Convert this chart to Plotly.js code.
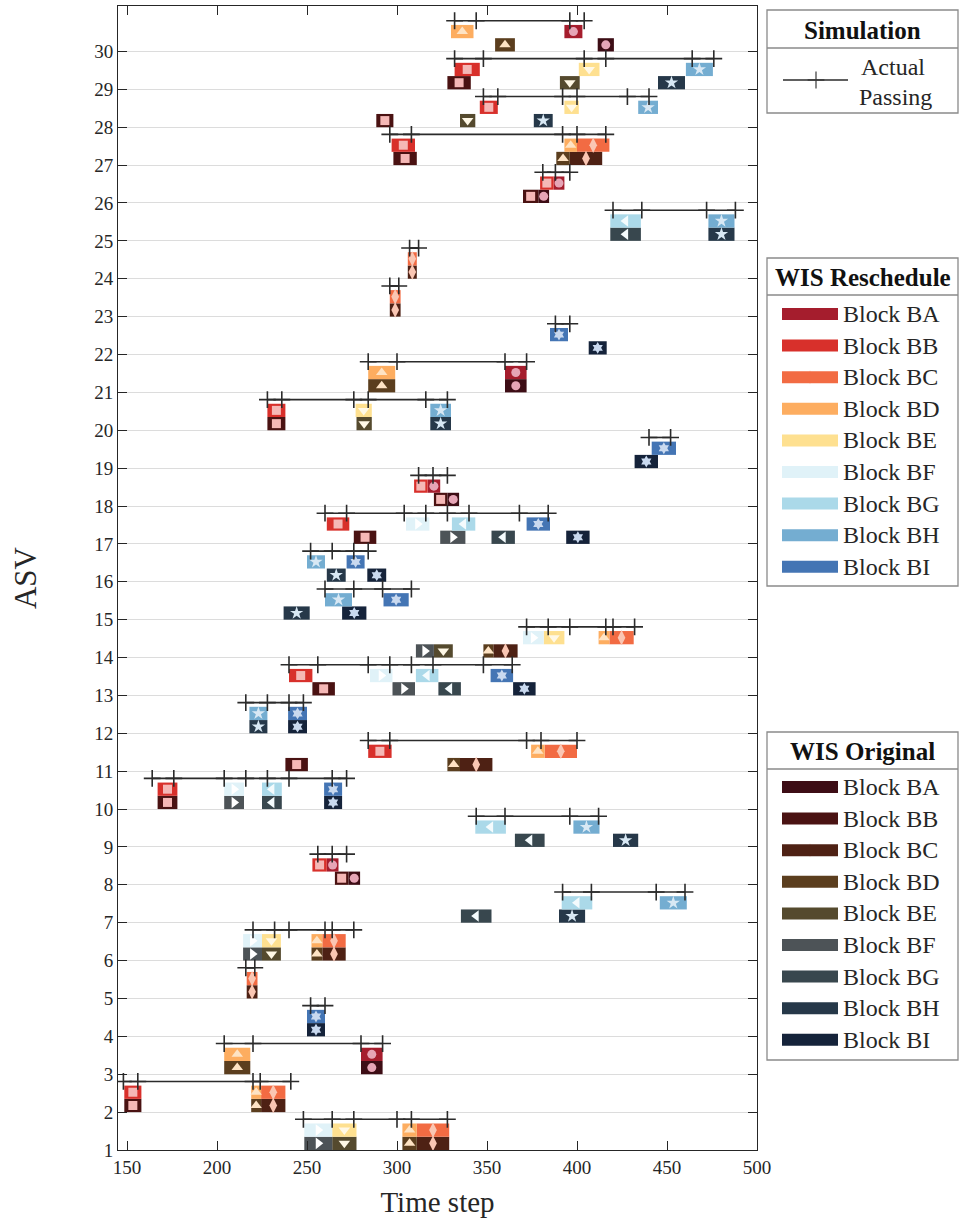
<!DOCTYPE html>
<html><head><meta charset="utf-8">
<script src="https://cdn.plot.ly/plotly-3.0.1.min.js"></script>
<style>body{margin:0;background:#fff}#chart{width:960px;height:1222px}</style>
</head><body><div id="chart"></div>
<script>
// ---------- DATA ----------
const blockNames = ['BA','BB','BC','BD','BE','BF','BG','BH','BI'];
const xTickVals = [150,200,250,300,350,400,450,500];
const asvTicks = Array.from({length:30},(_,i)=>i+1);

// WIS Reschedule blocks: [ASV, start, end]
const rsBA = [[30,393,403],[26,387,393],[21,360,372],[18,317,324],[8,261,267.5],[3,280,292]];
const rsBB = [[29,332,346],[28,346,356],[27,297,310],[26,379.5,387],[20,228,238],[18,309.5,317],[17,261,273.5],[13,240,253],[11,284,297],[10,167,178],[8,253,261],[2,148.5,158]];
const rsBC = [[27,400,418],[24,306,311],[23,296,302],[14,418,431.5],[11,382,400],[6,258.5,271.5],[5,216.5,222.5],[2,224.5,238],[1,311,329]];
const rsBD = [[30,330,342.5],[27,393,400],[21,284,299],[14,412,418],[11,374.5,382],[6,252.5,258.5],[3,204,218.5],[2,219,224.5],[1,303,311]];
const rsBE = [[29,401,412.5],[28,393,401],[20,277,286],[14,381.5,393],[6,225,235.5],[1,264,277.5]];
const rsBF = [[17,305,318],[14,370,381.5],[13,285,297.5],[10,204,215],[6,214.5,225],[1,248.5,264]];
const rsBG = [[25,418.5,435.5],[17,330.5,343.5],[13,310.5,323],[10,225,236],[9,343.5,360.5],[7,391.5,408.5]];
const rsBH = [[29,460.5,475.5],[28,434,445],[25,473,487.5],[20,318.5,330],[16,250,260],[15,260,275],[12,218,228],[9,398,412.5],[7,446,461]];
const rsBI = [[22,385,395],[19,441.5,455],[17,372,385],[16,272,282],[15,292.5,306.5],[13,352,364.5],[12,239.5,250],[10,259.5,269.5],[4,250,260]];

// WIS Original blocks: [ASV, start, end]
const ogBA = [[30,411.5,420.5],[26,378.5,384.5],[21,360,372],[18,328,334.5],[8,273,279.5],[3,280,292]];
const ogBB = [[29,328,341],[28,288.5,298],[27,298,311],[26,370,378.5],[20,228,238],[18,320.5,328],[17,276,288.5],[13,253,265.5],[11,238,250.5],[10,167,178],[8,265.5,273],[2,148.5,158]];
const ogBC = [[27,396,414],[24,306,311],[23,296,302],[14,353.5,367],[11,335,353],[6,258.5,271.5],[5,216.5,222.5],[2,224.5,238],[1,311,329]];
const ogBD = [[30,354.5,365.5],[27,388.5,396],[21,284,299],[14,348,353.5],[11,328,335],[6,252.5,258.5],[3,204,218.5],[2,219,224.5],[1,303,311]];
const ogBE = [[29,390.5,401.5],[28,335,343.5],[20,277.5,286],[14,320.5,331],[6,225,235.5],[1,264,277.5]];
const ogBF = [[17,324,338],[14,310.5,320.5],[13,297.5,310],[10,204,215],[6,214.5,225],[1,248.5,264]];
const ogBG = [[25,418.5,435.5],[17,352.5,365.5],[13,323,335.5],[10,225,236],[9,365.5,382],[7,335.5,352.5]];
const ogBH = [[29,445,460],[28,376,386.5],[25,473,487.5],[20,318.5,330],[16,261,271.5],[15,237,251.5],[12,218,228],[9,420,434],[7,390,404.5]];
const ogBI = [[22,406.5,416.5],[19,432,445],[17,394,407],[16,283.5,294],[15,269.5,283],[13,364.5,377],[12,239.5,250],[10,259.5,269.5],[4,250,260]];

// Simulation: actual passing times per ASV
const actualASV = [30,29,28,27,26,25,24,23,22,21,20,19,18,17,16,15,14,13,12,11,10,9,8,7,6,5,4,3,2,1];
const actualTimes = [
 [332,344,396,404],
 [332,348,404,416,464,476],
 [348,356,392,400,428,440],
 [296,308,392,400,416],
 [381,388,396],
 [420,436,472,488],
 [307,312],
 [296,301],
 [388,396],
 [284,300,360,372],
 [228,236,276,284,316,328],
 [440,452],
 [312,320,328],
 [260,272,304,316,328,340,368,384],
 [252,264,276,284],
 [260,276,292,308],
 [372,384,396,416,420,432],
 [240,256,284,296,308,320,348,364],
 [216,228,240,248],
 [284,296,372,380,400],
 [164,176,204,216,228,240,264,272],
 [344,360,396,412],
 [256,264,272],
 [392,408,444,460],
 [220,232,240,260,264,276],
 [216,221],
 [252,260],
 [204,220,280,292],
 [148,156,220,224,241],
 [248,264,276,300,308,328]
];

// ---------- STYLE ----------
const rsData = [rsBA,rsBB,rsBC,rsBD,rsBE,rsBF,rsBG,rsBH,rsBI];
const ogData = [ogBA,ogBB,ogBC,ogBD,ogBE,ogBF,ogBG,ogBH,ogBI];
const rsColors = ['#a51d2d','#d8302b','#f26b43','#fdad60','#fee090','#e0f2f8','#abd9e9','#74add1','#4475b4'];
const ogColors = ['#3d0d15','#4a1212','#4e2114','#5b3e1e','#554a2e','#4d5357','#38474e','#263849','#15233a'];
const symbols = ['circle','square','diamond-tall','triangle-up','triangle-down','triangle-right','triangle-left','star','hexagram'];
const symSizes = [9,9,11,10,10,10,10,10,9];
const innerColors = ['#e6a5b6','#f5b8b6','#fac6b3','#fee3c4','#fff8e6','#ffffff','#f4fbfd','#d8e8f4','#c9d9ef'];
const FONT = 'Liberation Serif, Times New Roman, serif';
const TXT = '#262626';
const OG_OFF = 0.175, RS_OFF = 0.525, SIM_OFF = 0.81, BAR_H = 0.35;

const traces = [];
function addBlocks(data, colors, off){
  data.forEach((rows, i) => {
    traces.push({
      type:'bar', orientation:'h', xaxis:'x', yaxis:'y',
      y: rows.map(r=>r[0]+off), base: rows.map(r=>r[1]), x: rows.map(r=>r[2]-r[1]),
      width: BAR_H, marker:{color:colors[i], line:{width:0}},
      showlegend:false, hoverinfo:'skip', name: blockNames[i]
    });
  });
  data.forEach((rows, i) => {
    traces.push({
      type:'scatter', mode:'markers', xaxis:'x', yaxis:'y',
      x: rows.map(r=>(r[1]+r[2])/2), y: rows.map(r=>r[0]+off),
      marker:{symbol:symbols[i], size:symSizes[i], color:innerColors[i], line:{width:0}},
      showlegend:false, hoverinfo:'skip'
    });
  });
}
addBlocks(ogData, ogColors, OG_OFF);
addBlocks(rsData, rsColors, RS_OFF);

// actual passing lines
const ax = [], ay = [];
actualASV.forEach((a, i) => {
  actualTimes[i].forEach(t => { ax.push(t); ay.push(a + SIM_OFF); });
  ax.push(null); ay.push(null);
});
traces.push({
  type:'scatter', mode:'lines+markers', xaxis:'x', yaxis:'y', x:ax, y:ay,
  connectgaps:false,
  line:{color:'#2b2b2b', width:1.6},
  marker:{symbol:'cross-thin-open', size:12, color:'#2b2b2b', line:{color:'#2b2b2b', width:1.6}},
  showlegend:false, hoverinfo:'skip'
});

// ---------- LEGEND PANELS (pixel overlay axes) ----------
const shapes = [], annotations = [];
const BX0 = 767, BX1 = 958;
function box(y0, sep, y1, title){
  shapes.push({type:'rect', xref:'x2', yref:'y2', x0:BX0, x1:BX1, y0:y0, y1:y1, line:{color:'#8a8a8a', width:1.3}, fillcolor:'rgba(0,0,0,0)'});
  shapes.push({type:'line', xref:'x2', yref:'y2', x0:BX0, x1:BX1, y0:sep, y1:sep, line:{color:'#8a8a8a', width:1.3}});
  annotations.push({xref:'x2', yref:'y2', x:(BX0+BX1)/2, y:(y0+sep)/2+1, text:'<b>'+title+'</b>', showarrow:false, xanchor:'center', yanchor:'middle', font:{family:FONT, size:25, color:'#111'}});
}
box(10, 48, 113, 'Simulation');
box(258, 295, 586, 'WIS Reschedule');
box(732, 769, 1060, 'WIS Original');

// simulation legend item
traces.push({type:'scatter', mode:'lines+markers', xaxis:'x2', yaxis:'y2', x:[783,816,848], y:[80,80,80],
  line:{color:'#2b2b2b', width:1.6}, marker:{symbol:'cross-thin-open', size:[0,12,0], color:'#2b2b2b', line:{color:'#2b2b2b', width:1.6}},
  showlegend:false, hoverinfo:'skip'});
annotations.push({xref:'x2', yref:'y2', x:893, y:67, text:'Actual', showarrow:false, xanchor:'center', yanchor:'middle', font:{family:FONT, size:24, color:TXT}});
annotations.push({xref:'x2', yref:'y2', x:895, y:97, text:'Passing', showarrow:false, xanchor:'center', yanchor:'middle', font:{family:FONT, size:24, color:TXT}});

function legendItems(firstY, colors){
  const lx = [], ly = [];
  blockNames.forEach((b, i) => {
    const cy = firstY + i*31.6;
    shapes.push({type:'rect', xref:'x2', yref:'y2', x0:782, x1:838, y0:cy-6, y1:cy+6, line:{width:0}, fillcolor:colors[i]});
    annotations.push({xref:'x2', yref:'y2', x:841, y:cy, text:'Block '+b, showarrow:false, xanchor:'left', yanchor:'middle', font:{family:FONT, size:24, color:TXT}});
    lx.push(810); ly.push(cy);
  });
  traces.push({type:'scatter', mode:'markers', xaxis:'x2', yaxis:'y2', x:lx, y:ly,
    marker:{symbol:symbols, size:symSizes.map(s=>s-1), color:innerColors, line:{width:0}}, showlegend:false, hoverinfo:'skip'});
}
legendItems(314, rsColors);
legendItems(787, ogColors);

const layout = {
  width:960, height:1222,
  margin:{l:0, r:0, t:0, b:0},
  paper_bgcolor:'#ffffff', plot_bgcolor:'rgba(0,0,0,0)',
  barmode:'overlay', showlegend:false,
  font:{family:FONT, color:TXT},
  xaxis:{
    domain:[118/960, 757/960], anchor:'y', range:[145,500],
    tickmode:'array', tickvals:xTickVals, ticktext:xTickVals.map(String),
    ticks:'inside', ticklen:9, tickcolor:TXT, mirror:'ticks', showline:true, linecolor:TXT, linewidth:1,
    showgrid:false, zeroline:false, automargin:false,
    tickfont:{family:FONT, size:19, color:TXT},
    title:{text:'Time step', font:{family:FONT, size:29, color:TXT}, standoff:14}
  },
  yaxis:{
    domain:[1-1150/1222, 1-6/1222], anchor:'x', range:[1,31.2],
    tickmode:'array', tickvals:asvTicks, ticktext:asvTicks.map(String),
    ticks:'inside', ticklen:9, tickcolor:TXT, mirror:'ticks', showline:true, linecolor:TXT, linewidth:1,
    showgrid:true, gridcolor:'#dcdcdc', gridwidth:1, zeroline:false, automargin:false,
    tickfont:{family:FONT, size:19, color:TXT},
    title:{text:'ASV', font:{family:FONT, size:31, color:TXT}, standoff:48}
  },
  xaxis2:{domain:[0,1], anchor:'y2', range:[0,960], visible:false, fixedrange:true},
  yaxis2:{domain:[0,1], anchor:'x2', range:[1222,0], visible:false, fixedrange:true},
  shapes:shapes, annotations:annotations
};
Plotly.newPlot('chart', traces, layout, {staticPlot:true, displayModeBar:false});
</script></body></html>
